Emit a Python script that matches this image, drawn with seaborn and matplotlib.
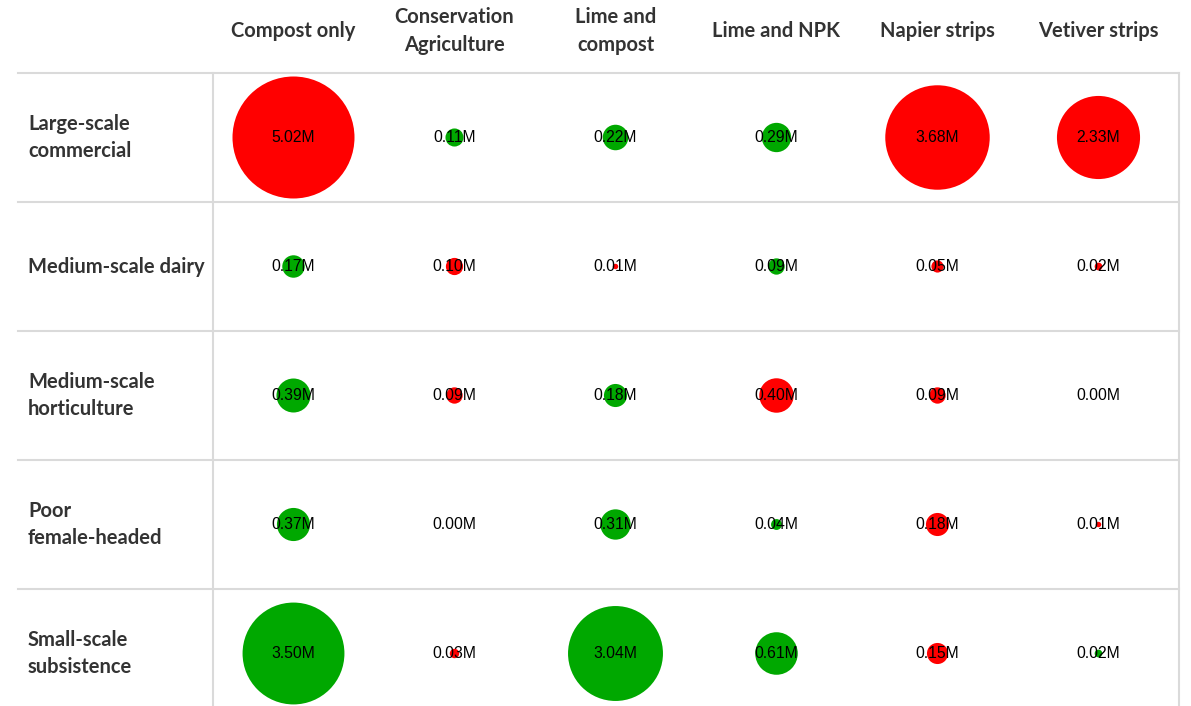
import seaborn as sns
import pandas as pd
import matplotlib.pyplot as plt
from matplotlib.transforms import blended_transform_factory

interventions = ['Compost only', 'Conservation\nAgriculture', 'Lime and\ncompost',
                 'Lime and NPK', 'Napier strips', 'Vetiver strips']
farm_types = ['Large-scale\ncommercial', 'Medium-scale dairy', 'Medium-scale\nhorticulture',
              'Poor\nfemale-headed', 'Small-scale\nsubsistence']

# value in millions, one list per farm type (same order as interventions)
large_commercial = [5.02, 0.11, 0.22, 0.29, 3.68, 2.33]
medium_dairy = [0.17, 0.10, 0.01, 0.09, 0.05, 0.02]
medium_horti = [0.39, 0.09, 0.18, 0.40, 0.09, 0.00]
poor_female = [0.37, 0.00, 0.31, 0.04, 0.18, 0.01]
small_subsist = [3.50, 0.03, 3.04, 0.61, 0.15, 0.02]

# 'pos' = green, 'neg' = red
large_commercial_dir = ['neg', 'pos', 'pos', 'pos', 'neg', 'neg']
medium_dairy_dir = ['pos', 'neg', 'neg', 'pos', 'neg', 'neg']
medium_horti_dir = ['pos', 'neg', 'pos', 'neg', 'neg', 'neg']
poor_female_dir = ['pos', 'pos', 'pos', 'pos', 'neg', 'neg']
small_subsist_dir = ['pos', 'neg', 'pos', 'pos', 'neg', 'pos']

values = [large_commercial, medium_dairy, medium_horti, poor_female, small_subsist]
dirs = [large_commercial_dir, medium_dairy_dir, medium_horti_dir, poor_female_dir, small_subsist_dir]

rows = []
for i, ft in enumerate(farm_types):
    for j, iv in enumerate(interventions):
        rows.append({'farm': ft, 'intervention': iv, 'x': j, 'y': i,
                     'value': values[i][j], 'direction': dirs[i][j]})
df = pd.DataFrame(rows)

W, H = 1191, 706
grid_left, grid_right, grid_top = 213, 1179, 73
row_h = 129
line_col = '#dadada'
text_col = '#333333'

fig = plt.figure(figsize=(W / 100, H / 100), dpi=100)
ax = fig.add_axes([grid_left / W, 0, (grid_right - grid_left) / W, (H - grid_top) / H])

smax = (122 * 72 / 100) ** 2
sns.scatterplot(data=df, x='x', y='y', size='value', sizes=(0, smax), size_norm=(0, 5.02),
                hue='direction', palette={'pos': '#00a800', 'neg': '#ff0000'},
                hue_order=['pos', 'neg'], legend=False, linewidth=0, alpha=1, ax=ax, zorder=3)

ax.set_xlim(-0.5, 5.5)
ax.set_ylim(-0.5 + (H - grid_top) / row_h, -0.5)
ax.set_xticks([])
ax.set_yticks([])
ax.set_xlabel('')
ax.set_ylabel('')
for s in ['top', 'bottom']:
    ax.spines[s].set_visible(False)
for s in ['left', 'right']:
    ax.spines[s].set_color(line_col)
    ax.spines[s].set_linewidth(1.5)

label_frac = (grid_left - 18) / (grid_right - grid_left)
for k in range(len(farm_types)):
    ax.axhline(k - 0.5, xmin=-label_frac, xmax=1, color=line_col, lw=1.5, clip_on=False)

for _, r in df.iterrows():
    ax.text(r['x'], r['y'], f"{r['value']:.2f}M", ha='center', va='center',
            fontsize=11.3, family='Liberation Sans', color='black', zorder=4)

tr_rows = blended_transform_factory(ax.transAxes, ax.transData)
for i, ft in enumerate(farm_types):
    ax.text(-(grid_left - 28) / (grid_right - grid_left), i, ft, transform=tr_rows,
            ha='left', va='center', fontsize=14.5, fontweight='bold', family='Lato',
            color=text_col, linespacing=1.45)

tr_cols = blended_transform_factory(ax.transData, ax.transAxes)
for j, iv in enumerate(interventions):
    ax.text(j, 1 + 42 / (H - grid_top), iv, transform=tr_cols, ha='center', va='center',
            fontsize=14.5, fontweight='bold', family='Lato', color=text_col, linespacing=1.45)

fig.savefig('out.png', dpi=100)
